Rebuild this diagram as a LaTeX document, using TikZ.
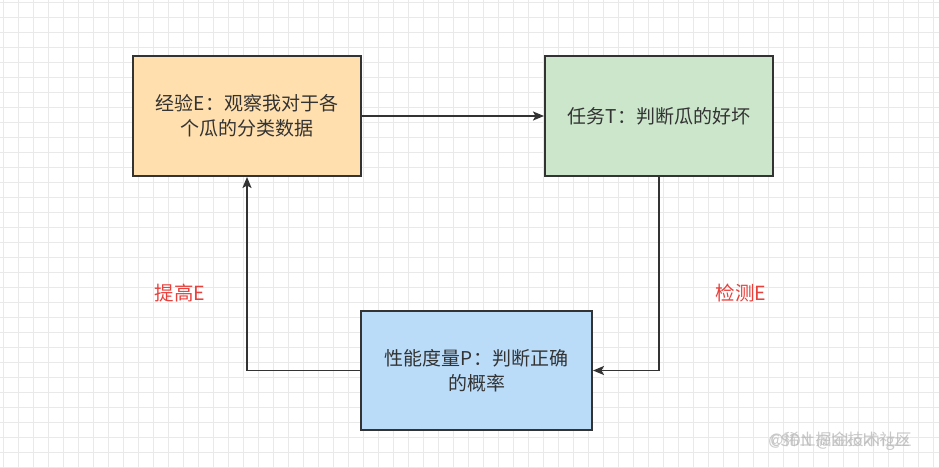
\documentclass[tikz,border=0pt]{standalone}
\usepackage{fontspec}
\setmainfont{Noto Sans CJK SC}
\newfontfamily\cjk{Noto Sans CJK SC}
\usetikzlibrary{arrows.meta}
\definecolor{gridc}{HTML}{E9E9E9}
\definecolor{strokec}{HTML}{333333}
\definecolor{txtc}{HTML}{333333}
\definecolor{fillE}{HTML}{FFDFAD}
\definecolor{fillT}{HTML}{CBE6CB}
\definecolor{fillP}{HTML}{BADCF9}
\definecolor{redc}{HTML}{E8403B}
\definecolor{wmc}{HTML}{BBBBBB}
\tikzset{
  box/.style={draw=strokec, line width=2pt, minimum width=228pt, minimum height=120pt,
    inner sep=0pt, align=center, text=txtc, font=\cjk\fontsize{19}{25}\selectfont},
  conn/.style={draw=strokec, line width=1.8pt, -{Stealth[length=11pt,width=9pt,inset=2.5pt]}},
  lbl/.style={text=redc, font=\cjk\fontsize{19.5}{24}\selectfont, inner sep=0pt},
  wm/.style={text=wmc, font=\cjk\fontsize{16}{20}\selectfont, inner sep=0pt, opacity=0.8}
}
\begin{document}
\begin{tikzpicture}[x=1pt,y=-1pt]
\useasboundingbox (0,0) rectangle (939,468);
\fill[white] (0,0) rectangle (939,468);
\foreach \i in {3,18,...,939} \draw[gridc, line width=0.8pt] (\i,0) -- (\i,468);
\foreach \j in {2,17,...,468} \draw[gridc, line width=0.8pt] (0,\j) -- (939,\j);

\node[box, fill=fillE] (E) at (247,116) {经验E：观察我对于各\\个瓜的分类数据};
\node[box, fill=fillT] (T) at (659,116) {任务T：判断瓜的好坏};
\node[box, fill=fillP, minimum width=231pt, minimum height=119pt] (P) at (476.5,370.5) {性能度量P：判断正确\\的概率};

\draw[conn] (E.east) -- (T.west);
\draw[conn] (T.south) |- (P.east);
\draw[conn] (P.west) -| (E.south);

\node[lbl] (l1) at (180,293) {提高E};
\node[lbl] (l2) at (741,293) {检测E};

\node[wm] (w1) at (840,440) {@稀土掘金技术社区};
\node[wm] (w2) at (840,442) {CSDN @kikokingzz};
\end{tikzpicture}
\end{document}
